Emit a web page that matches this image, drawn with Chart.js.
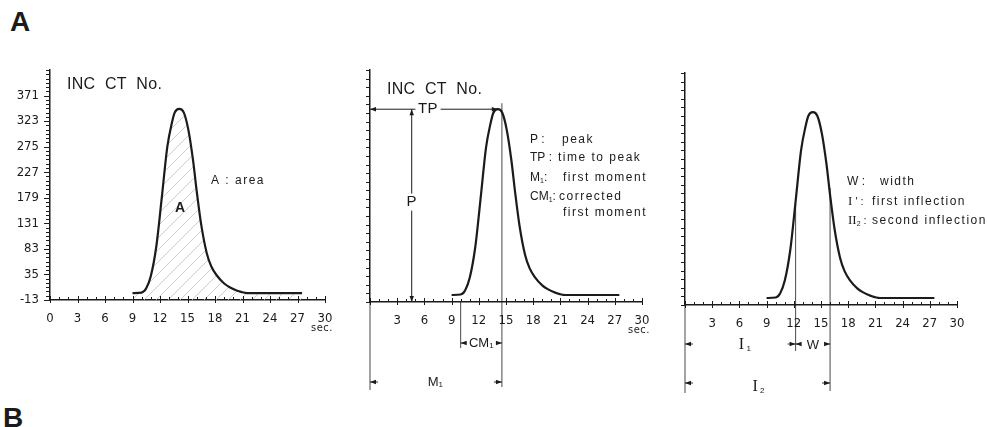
<!DOCTYPE html>
<html>
<head>
<meta charset="utf-8">
<title>INC CT curve parameters</title>
<script src="https://cdn.jsdelivr.net/npm/chart.js@4.4.1/dist/chart.umd.min.js"></script>
<style>
  body { margin: 0; background: #fff; width: 987px; height: 427px; overflow: hidden; position: relative; font-family: 'Liberation Sans', Arial, sans-serif; }
  .panel { position: absolute; }
  .tag { position: absolute; font-weight: bold; font-size: 28px; line-height: 28px; color: #1b1b1b; }
</style>
</head>
<body>
<div class="tag" style="left:10px;top:8px">A</div>
<div class="tag" style="left:3px;top:404px">B</div>
<div class="panel" style="left:0;top:60px;width:340px;height:280px"><canvas id="panelArea"></canvas></div>
<div class="panel" style="left:340px;top:60px;width:320px;height:340px"><canvas id="panelMoment"></canvas></div>
<div class="panel" style="left:660px;top:60px;width:327px;height:340px"><canvas id="panelWidth"></canvas></div>

<script>
// Curve (time in sec, incremental CT number)
const timeSec = [9, 10, 10.5, 11, 11.6, 12.2, 12.8, 13.3, 13.6, 14.1, 14.6, 15.1, 15.6, 16.0, 16.5, 17.1, 17.6, 18.2, 19.0, 19.6, 20.5, 21.5, 27.5];
const ctCount = [0, 1, 9, 32, 88, 180, 275, 320, 339, 346, 339, 306, 250, 192, 128, 75, 50, 33, 18, 11, 4, 0, 0];

// Axis labels
const yTickLabels = [-13, 35, 83, 131, 179, 227, 275, 323, 371];
const xTickLabels = [0, 3, 6, 9, 12, 15, 18, 21, 24, 27, 30];

// Curve parameters marked on the panels
const peakTime = 14.1;
const peakCount = 346;
const firstMoment = 14.55;
const cmStart = 10;
const pArrowTime = 4.6;
const inflection1 = { x: 12.2, y: 175 };
const inflection2 = { x: 16, y: 205 };

const INK = '#1b1b1b';
const FONT = "'Liberation Sans', Arial, sans-serif";
const NARROW = "'Liberation Sans Narrow', 'DejaVu Sans Condensed', sans-serif";
const SERIF = "'Liberation Serif', 'DejaVu Serif', serif";

function curvePoints() {
  return timeSec.map((t, i) => ({ x: t, y: ctCount[i] }));
}

function hatchPattern() {
  const c = document.createElement('canvas');
  c.width = 12; c.height = 12;
  const g = c.getContext('2d');
  g.strokeStyle = '#c2c2c2';
  g.lineWidth = 0.8;
  g.beginPath();
  g.moveTo(0, 12); g.lineTo(12, 0);
  g.moveTo(-6, 6); g.lineTo(6, -6);
  g.moveTo(6, 18); g.lineTo(18, 6);
  g.stroke();
  return g.createPattern(c, 'repeat');
}

// drawing helpers
function txt(ctx, s, x, y, size, opts = {}) {
  ctx.save();
  ctx.font = `${opts.weight || 'normal'} ${size}px ${opts.family || FONT}`;
  ctx.letterSpacing = (opts.ls ?? 1.5) + 'px';
  ctx.fillStyle = INK;
  ctx.textAlign = opts.align || 'left';
  ctx.textBaseline = 'middle';
  ctx.fillText(s, x, y);
  const w = ctx.measureText(s).width;
  ctx.restore();
  return w;
}

// parts: [text, size, family, dy]
function rich(ctx, parts, x, y, align = 'left') {
  ctx.save();
  const widths = parts.map(([t, size, fam]) => {
    ctx.font = `${size}px ${fam || FONT}`;
    ctx.letterSpacing = '0px';
    return ctx.measureText(t).width;
  });
  const total = widths.reduce((s, w) => s + w, 0);
  let cx = align === 'center' ? x - total / 2 : x;
  parts.forEach(([t, size, fam, dy], i) => {
    txt(ctx, t, cx, y + (dy || 0), size, { family: fam, ls: 0 });
    cx += widths[i];
  });
  ctx.restore();
}

function seg(ctx, x1, y1, x2, y2, w = 1) {
  ctx.save();
  ctx.strokeStyle = INK;
  ctx.lineWidth = w;
  ctx.beginPath();
  ctx.moveTo(x1, y1);
  ctx.lineTo(x2, y2);
  ctx.stroke();
  ctx.restore();
}

function head(ctx, x, y, dir) {
  const L = 6, W = 2.2;
  ctx.save();
  ctx.fillStyle = INK;
  ctx.beginPath();
  if (dir === 'left') { ctx.moveTo(x, y); ctx.lineTo(x + L, y - W); ctx.lineTo(x + L, y + W); }
  if (dir === 'right') { ctx.moveTo(x, y); ctx.lineTo(x - L, y - W); ctx.lineTo(x - L, y + W); }
  if (dir === 'up') { ctx.moveTo(x, y); ctx.lineTo(x - W, y + L); ctx.lineTo(x + W, y + L); }
  if (dir === 'down') { ctx.moveTo(x, y); ctx.lineTo(x - W, y - L); ctx.lineTo(x + W, y - L); }
  ctx.closePath();
  ctx.fill();
  ctx.restore();
}

// dimension arrow with short tails only
function dim(ctx, xa, xb, yy, tail = 8) {
  seg(ctx, xa, yy, xa + tail, yy, 0.9);
  seg(ctx, xb - tail, yy, xb, yy, 0.9);
  head(ctx, xa, yy, 'left');
  head(ctx, xb, yy, 'right');
}

function labelBox(ctx, s, x, y, size) {
  ctx.save();
  ctx.font = `${size}px ${FONT}`;
  const w = ctx.measureText(s).width;
  ctx.fillStyle = '#fff';
  ctx.fillRect(x - w / 2 - 3, y - size / 2 - 1, w + 6, size + 2);
  ctx.restore();
  txt(ctx, s, x, y, size, { align: 'center', ls: 0.5 });
}

function axisTicks(majorY) {
  return {
    id: 'axisTicks',
    afterDraw(chart) {
      const { ctx, chartArea: a, scales: { x, y } } = chart;
      ctx.save();
      ctx.strokeStyle = INK;
      ctx.lineWidth = 1;
      ctx.beginPath();
      x.ticks.forEach(t => {
        const p = Math.round(x.getPixelForValue(t.value)) + 0.5;
        const major = t.value % 3 === 0;
        ctx.moveTo(p, a.bottom - (major ? 4 : 3));
        ctx.lineTo(p, a.bottom + (major ? 3 : 0));
      });
      y.ticks.forEach(t => {
        const p = Math.round(y.getPixelForValue(t.value)) + 0.5;
        const major = majorY && yTickLabels.includes(t.value);
        ctx.moveTo(a.left - (major ? 6 : 4), p);
        ctx.lineTo(a.left, p);
      });
      ctx.stroke();
      ctx.restore();
    }
  };
}

function makeChart(id, cfg) {
  return new Chart(document.getElementById(id), {
    type: 'line',
    data: {
      datasets: [{
        data: curvePoints(),
        borderColor: INK,
        borderWidth: 2.2,
        pointRadius: 0,
        cubicInterpolationMode: 'monotone',
        fill: cfg.hatch ? 'start' : false,
        backgroundColor: cfg.hatch ? hatchPattern() : 'transparent'
      }]
    },
    options: {
      responsive: true,
      maintainAspectRatio: false,
      animation: false,
      devicePixelRatio: 1,
      events: [],
      layout: { padding: cfg.padding },
      plugins: { legend: { display: false }, tooltip: { enabled: false } },
      scales: {
        x: {
          type: 'linear',
          min: 0,
          max: 30,
          afterFit(s) { s.height = cfg.xHeight; s.paddingLeft = 0; s.paddingRight = 0; },
          grid: { display: false },
          border: { display: true, color: INK, width: 1.5 },
          ticks: {
            stepSize: 1,
            autoSkip: false,
            maxRotation: 0,
            padding: cfg.xPad,
            color: INK,
            font: { family: NARROW, size: 13 },
            callback: v => (xTickLabels.includes(v) && (cfg.zeroLabel || v !== 0)) ? String(v) : ''
          }
        },
        y: {
          min: -13,
          max: 419,
          afterFit(s) { s.width = cfg.yWidth; s.paddingTop = 0; s.paddingBottom = 0; },
          grid: { display: false },
          border: { display: true, color: INK, width: 1.5 },
          ticks: {
            stepSize: cfg.yStep,
            autoSkip: false,
            padding: 3,
            color: INK,
            font: { family: NARROW, size: 13 },
            callback: v => (cfg.yLabels && yTickLabels.includes(v)) ? String(v) : ''
          }
        }
      }
    },
    plugins: [axisTicks(cfg.yLabels), cfg.marks]
  });
}

// Panel 1: area
const areaMarks = {
  id: 'areaMarks',
  afterDraw(chart) {
    const { ctx, chartArea: a, scales: { x, y } } = chart;
    txt(ctx, 'INC  CT  No.', a.left + 17, a.top + 15, 16, { ls: 0.3 });
    txt(ctx, 'A', x.getPixelForValue(14.2), y.getPixelForValue(159), 14, { align: 'center', weight: 'bold', ls: 0 });
    txt(ctx, 'A : area', a.left + 161, a.top + 111, 12);
    txt(ctx, 'sec.', x.getPixelForValue(30) - 3, a.bottom + 28, 11, { align: 'center', ls: 0.5, family: NARROW });
  }
};

// Panel 2: peak, time to peak, moments
const momentMarks = {
  id: 'momentMarks',
  afterDraw(chart) {
    const { ctx, chartArea: a, scales: { x, y } } = chart;
    const X = v => x.getPixelForValue(v);
    const Y = v => y.getPixelForValue(v);
    const yPk = Y(peakCount), x0 = X(0), xPk = X(peakTime);
    const xM = X(firstMoment), xC = X(cmStart), xP = X(pArrowTime);

    txt(ctx, 'INC  CT  No.', a.left + 17, a.top + 20, 16, { ls: 0.3 });

    // TP
    seg(ctx, x0, yPk, xPk, yPk, 1);
    head(ctx, x0, yPk, 'left');
    head(ctx, xPk, yPk, 'right');
    labelBox(ctx, 'TP', X(6.4), yPk, 15);

    // P
    seg(ctx, xP, yPk, xP, a.bottom, 1);
    head(ctx, xP, yPk, 'up');
    head(ctx, xP, a.bottom, 'down');
    labelBox(ctx, 'P', xP, Y(173), 15);

    // reference lines below the axis
    seg(ctx, xM, yPk - 6, xM, a.bottom + 85, 0.8);
    seg(ctx, xC, a.bottom, xC, a.bottom + 46, 0.8);
    seg(ctx, x0, a.bottom, x0, a.bottom + 88, 0.8);

    dim(ctx, xC, xM, a.bottom + 41, 6);
    rich(ctx, [['CM', 13], ['1', 8, FONT, 3]], (xC + xM) / 2, a.bottom + 41, 'center');
    dim(ctx, x0, xM, a.bottom + 80, 8);
    rich(ctx, [['M', 13], ['1', 8, FONT, 3]], X(7.2), a.bottom + 80, 'center');

    // legend
    const c1 = a.left + 160, c2 = a.left + 190;
    rich(ctx, [['P :', 12]], c1, a.top + 70);
    txt(ctx, 'peak', c2 + 2, a.top + 70, 12);
    rich(ctx, [['TP :', 12]], c1, a.top + 88);
    txt(ctx, 'time to peak', c2 - 2, a.top + 88, 12);
    rich(ctx, [['M', 12], ['1', 7, FONT, 3], [':', 12]], c1, a.top + 108);
    txt(ctx, 'first moment', c2 + 3, a.top + 108, 12);
    rich(ctx, [['CM', 12], ['1', 7, FONT, 3], [':', 12]], c1, a.top + 127);
    txt(ctx, 'corrected', c2 - 1, a.top + 127, 12);
    txt(ctx, 'first moment', c2 + 3, a.top + 143, 12);

    txt(ctx, 'sec.', X(30) - 3, a.bottom + 28, 11, { align: 'center', ls: 0.5, family: NARROW });
  }
};

// Panel 3: width and inflections
const widthMarks = {
  id: 'widthMarks',
  afterDraw(chart) {
    const { ctx, chartArea: a, scales: { x, y } } = chart;
    const X = v => x.getPixelForValue(v);
    const Y = v => y.getPixelForValue(v);
    const x0 = X(0), x1 = X(inflection1.x), x2 = X(inflection2.x);

    seg(ctx, x1, Y(inflection1.y), x1, a.bottom + 46, 0.8);
    seg(ctx, x2, Y(inflection2.y), x2, a.bottom + 86, 0.8);
    seg(ctx, x0, a.bottom, x0, a.bottom + 88, 0.8);

    dim(ctx, x0, x1, a.bottom + 39, 8);
    rich(ctx, [['I', 16, SERIF], [' 1', 8, FONT, 4]], X(6.6), a.bottom + 40, 'center');
    dim(ctx, x1, x2, a.bottom + 39, 5);
    rich(ctx, [['W', 13]], (x1 + x2) / 2, a.bottom + 40, 'center');
    dim(ctx, x0, x2, a.bottom + 78, 8);
    rich(ctx, [['I', 16, SERIF], [' 2', 8, FONT, 4]], X(8.1), a.bottom + 82, 'center');

    const c1 = a.left + 162;
    rich(ctx, [['W :', 12]], c1, a.top + 109);
    txt(ctx, 'width', a.left + 195, a.top + 109, 12);
    rich(ctx, [['I', 13, SERIF], [" ' :", 11]], c1 + 1, a.top + 129);
    txt(ctx, 'first inflection', a.left + 187, a.top + 129, 12);
    rich(ctx, [['II', 13, SERIF], ['2', 7, FONT, 3], [' :', 11]], c1 + 1, a.top + 148);
    txt(ctx, 'second inflection', a.left + 187, a.top + 148, 12);
  }
};

makeChart('panelArea', {
  hatch: true, yLabels: true, zeroLabel: true, yStep: 8,
  yWidth: 50, xHeight: 40, xPad: 3,
  padding: { top: 10, right: 15, bottom: 0, left: 0 },
  marks: areaMarks
});

makeChart('panelMoment', {
  hatch: false, yLabels: false, zeroLabel: false, yStep: 16,
  yWidth: 30, xHeight: 98, xPad: 3,
  padding: { top: 10, right: 18, bottom: 0, left: 0 },
  marks: momentMarks
});

makeChart('panelWidth', {
  hatch: false, yLabels: false, zeroLabel: false, yStep: 16,
  yWidth: 25, xHeight: 95, xPad: 3,
  padding: { top: 13, right: 30, bottom: 0, left: 0 },
  marks: widthMarks
});
</script>
</body>
</html>
